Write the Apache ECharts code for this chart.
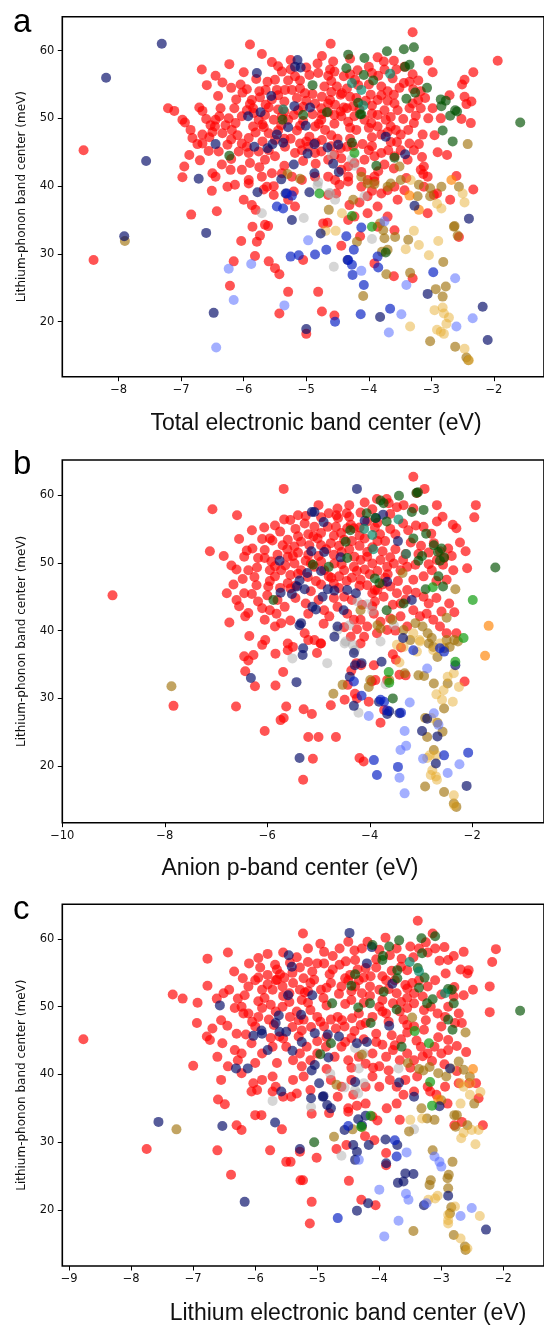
<!DOCTYPE html>
<html>
<head>
<meta charset="utf-8">
<script src="https://cdn.jsdelivr.net/npm/echarts/dist/echarts.min.js"></script>
<style>
  html, body { margin: 0; padding: 0; background: #fff; }
  #chart { width: 544px; height: 1331px; }
</style>
</head>
<body>
<div id="chart"></div>
<script>
// Tick labels
const yTicks = [20, 30, 40, 50, 60];
const aXTicks = [-8, -7, -6, -5, -4, -3, -2];
const bXTicks = [-10, -8, -6, -4, -2];
const cXTicks = [-9, -8, -7, -6, -5, -4, -3, -2];

const panelLetters = ['a', 'b', 'c'];
const xTitles = ['Total electronic band center (eV)', 'Anion p-band center (eV)', 'Lithium electronic band center (eV)'];
const yTitle = 'Lithium-phonon band center (meV)';

// ---- Panel a: total electronic band center vs Li-phonon band center ----
const aRed = [[-8.56,45.3],[-8.40,29.1],[-1.94,58.5],[-2.33,56.8],[-2.47,55.7],[-2.51,55.0],[-2.71,53.4],[-2.47,53.2],[-2.36,52.5],[-2.44,52.1],[-2.52,49.9],[-2.37,49.3],[-2.33,39.5],[-2.56,32.5],
[-5.90,60.9],[-4.61,61.0],[-3.30,62.7],[-5.71,59.5],[-6.23,58.0],[-6.67,57.2],[-4.82,58.1],[-4.57,58.4],[-4.18,57.1],[-4.00,57.6],[-3.86,59.0],[-3.76,58.4],[-3.75,57.2],[-3.43,57.6],[-3.44,55.2],[-3.05,58.5],[-2.98,56.8],[-3.21,55.6],[-3.56,57.2],[-3.62,55.9],[-6.34,55.3],[-6.59,54.9],[-5.62,55.4],[-5.50,55.7],[-5.39,56.9],[-5.29,55.6],[-5.18,56.2],[-5.10,55.6],[-4.81,56.7],[-4.62,57.2],[-4.55,56.9],[-4.40,56.2],[-4.22,55.7],[-4.17,54.9],[-4.71,54.7],[-4.51,54.7],[-4.43,53.7],[-3.80,54.7],[-3.70,54.0],[-3.51,54.5],[-3.29,54.3],[-3.17,54.0],[-6.02,53.8],[-6.12,52.8],[-5.87,52.7],[-5.74,53.1],[-5.65,54.2],[-5.90,52.1],[-5.47,54.2],[-5.34,54.2],[-5.23,54.2],[-5.10,54.4],[-5.02,53.7],[-4.62,52.7],[-4.45,53.5],[-4.54,52.0],[-3.97,53.5],[-3.86,52.7],[-3.59,52.2],[-3.75,51.2],[-3.86,50.5],[-3.54,51.2],[-3.35,51.5],[-3.21,52.7],[-3.17,51.5],[-2.98,51.5],
[-7.21,51.5],[-7.11,51.1],[-6.98,49.8],[-6.82,47.1],[-6.74,46.2],[-6.66,47.6],[-6.71,51.6],[-6.66,51.1],[-6.41,53.3],[-6.37,51.5],[-6.39,50.3],[-6.24,50.0],[-6.53,49.0],[-6.46,48.8],[-6.29,49.0],[-6.13,49.3],[-6.03,50.3],[-5.84,50.8],[-5.76,49.8],[-5.66,50.5],[-5.52,49.8],[-5.39,50.3],[-5.29,49.8],[-5.20,50.5],[-5.13,51.2],[-4.86,52.2],[-4.76,51.5],[-4.65,52.2],[-4.55,50.5],[-4.76,49.8],[-4.86,48.8],[-4.44,50.3],[-4.33,49.5],[-4.23,50.3],[-4.07,49.8],[-3.96,49.3],[-3.86,48.8],[-3.73,49.8],[-3.65,48.8],[-3.57,48.3],[-3.49,47.6],[-3.28,49.3],[-3.37,48.3],[-3.14,47.6],
[-6.94,49.4],[-6.87,44.6],[-6.95,42.9],[-6.66,46.3],[-6.40,45.1],[-6.26,46.1],[-6.56,45.2],[-6.50,48.0],[-6.34,47.8],[-6.19,48.3],[-6.10,47.5],[-5.92,47.1],[-5.81,47.9],[-5.68,48.7],[-5.50,46.8],[-6.03,46.3],[-6.08,45.1],[-5.92,44.9],[-5.76,45.1],[-5.66,43.9],[-5.50,44.4],[-5.34,45.8],[-5.18,44.9],[-5.07,45.3],[-4.97,45.8],[-4.86,44.9],[-4.76,45.1],[-4.65,43.9],[-4.55,44.6],[-4.44,44.1],[-4.33,42.9],[-4.23,43.4],[-4.07,43.9],[-3.91,44.4],[-3.80,44.9],[-3.69,45.3],[-3.59,44.4],[-3.49,45.3],[-3.38,43.9],[-3.28,45.3],[-3.12,42.9],[-3.06,41.4],
[-6.98,41.3],[-6.50,41.9],[-6.45,41.4],[-6.21,42.4],[-6.26,39.9],[-6.14,40.2],[-6.03,42.4],[-5.92,40.9],[-5.71,41.4],[-5.55,41.9],[-5.63,39.9],[-5.39,41.9],[-5.23,41.4],[-5.07,40.9],[-4.86,41.4],[-4.65,41.4],[-4.54,40.9],[-4.44,42.4],[-4.33,41.4],[-4.12,42.1],[-4.02,40.9],[-3.91,41.4],[-3.12,39.9],[-2.91,38.9],[-3.80,38.9],[-3.70,39.4],[-3.59,39.9],[-3.17,42.4],[-3.13,41.8],
[-5.55,52.8],[-5.35,52.5],[-5.00,52.6],[-4.75,53.2],[-4.35,51.5],[-4.95,47.3],[-5.25,47.0],[-5.45,48.2],[-4.60,47.5],[-4.30,47.0],[-4.10,46.2],[-3.95,47.2],[-4.45,45.6],[-5.60,45.3],[-4.20,53.0],[-4.60,55.5],[-5.45,57.7],[-5.00,57.5],[-3.35,46.3],[-3.60,42.6],[-3.85,42.2],[-5.90,43.4],[-6.20,44.0],
[-6.05,55.0],[-5.80,55.8],[-5.95,51.2],[-5.60,51.6],[-5.35,51.0],[-5.05,49.6],[-4.90,50.6],[-4.65,50.9],[-4.40,51.6],[-4.15,51.3],[-3.95,51.9],[-3.65,50.2],[-3.45,49.9],[-3.25,50.4],[-3.05,50.0],[-3.10,53.0],[-3.35,55.4],[-3.85,56.3],[-4.30,58.8],[-4.75,59.2],[-5.25,58.6],[-5.55,58.3],[-6.00,56.8],[-6.45,56.3],[-6.20,54.5],[-5.85,48.8],[-5.60,47.8],[-5.15,48.2],[-4.70,48.3],[-4.50,47.0],[-4.20,48.3],[-3.80,47.6],[-3.55,46.5],[-3.20,46.2],[-2.95,47.5],[-2.90,45.0],[-3.15,44.3],[-3.75,43.2],[-4.00,45.3],[-4.35,45.8],[-4.85,43.3],[-5.05,43.7],[-5.35,43.0],[-5.75,42.8],[-6.35,43.2],[-6.70,43.8],[-6.60,49.9],[-6.85,48.3],[-5.00,46.6],[-4.75,46.8],[-5.65,52.0],[-4.35,54.4],[-4.00,55.0],[-3.60,53.5],[-3.30,52.2],[-2.85,50.0],[-2.75,44.6],[-2.60,41.5],[-2.70,38.0],[-3.40,41.2],[-3.95,39.3],
[-5.95,54.3],[-5.75,54.0],[-5.45,53.4],[-5.15,53.0],[-4.90,53.6],[-4.60,53.9],[-4.30,53.2],[-4.05,52.6],[-3.80,53.4],[-5.85,51.5],[-5.45,51.3],[-5.05,51.7],[-4.75,50.6],[-4.45,51.0],[-4.25,51.8],[-3.95,50.7],[-3.70,52.6],[-5.70,49.1],[-5.40,49.0],[-5.10,48.9],[-4.80,49.2],[-4.55,49.2],[-4.30,48.6],[-4.00,48.6],[-3.70,48.0],[-5.95,45.8],[-5.70,46.6],[-5.35,47.0],[-5.10,46.3],[-4.85,46.4],[-4.60,45.9],[-4.25,45.9],[-3.95,45.9],[-3.65,46.5],[-5.25,57.2],[-4.95,56.4],[-4.65,56.3],[-4.30,56.5],[-3.95,56.7],[-3.60,58.5],[-3.30,56.5],[-6.15,51.5],[-6.45,49.8],[-6.55,47.2],[-6.20,46.9],
[-6.51,39.3],[-6.00,38.0],[-5.92,40.4],[-5.68,39.5],[-5.52,40.0],[-5.52,38.7],[-5.20,39.2],[-5.29,38.0],[-5.18,37.0],[-5.87,37.2],[-5.81,36.5],[-6.84,35.8],[-6.43,36.3],[-5.86,34.0],[-5.66,34.3],[-5.61,34.1],[-5.79,31.8],[-5.74,32.7],[-6.04,31.9],[-5.82,29.7],[-6.16,28.9],[-5.60,28.9],[-5.50,27.9],[-5.43,27.0],[-6.22,25.3],[-5.29,24.4],[-5.43,21.2],[-4.81,24.4],[-4.75,21.5],[-4.55,20.9],[-5.00,18.2],[-5.05,29.1],[-4.73,34.5],[-4.66,34.6],[-4.44,31.2],[-4.33,35.0],[-4.23,35.5],[-4.14,32.6],[-3.91,28.6],[-4.02,36.0],[-3.86,37.0],[-3.86,34.0],[-3.70,35.5],[-3.59,33.5],[-3.30,26.4],[-3.60,26.7],[-3.06,36.0],[-4.12,39.9],[-3.91,40.7],[-4.33,40.7],[-4.02,38.5],[-4.65,38.7],[-4.47,40.2],[-4.15,37.6],[-4.52,38.9],[-4.31,37.2],[-3.54,38.0],[-3.43,39.4],[-2.96,38.7]];
const aNavy = [[-8.20,56.0],[-7.56,43.7],[-7.31,61.0],[-7.91,32.6],[-2.40,35.2],[-2.18,22.2],[-2.10,17.3],[-5.14,58.6],[-5.18,57.6],[-5.09,57.5],[-5.79,56.7],[-5.56,53.3],[-5.93,50.3],[-5.73,50.9],[-5.29,48.7],[-5.19,51.8],[-4.94,51.6],[-5.01,48.9],[-3.73,47.3],[-6.45,46.2],[-5.47,47.6],[-5.54,46.2],[-5.62,45.6],[-5.37,46.4],[-5.83,45.8],[-4.87,46.2],[-4.66,45.7],[-4.49,46.1],[-4.98,44.8],[-5.20,43.2],[-4.57,43.3],[-4.48,42.1],[-3.42,44.7],[-6.72,41.1],[-5.78,39.1],[-5.40,41.0],[-4.87,41.9],[-4.95,39.1],[-5.33,38.9],[-6.60,33.1],[-6.48,21.3],[-5.00,18.9],[-4.77,33.0],[-4.34,29.1],[-3.82,20.7],[-3.06,24.1],[-3.27,37.1],[-5.23,35.0]];
const aBlue = [[-5.47,37.0],[-5.37,36.7],[-5.31,38.9],[-5.23,38.6],[-5.25,29.6],[-5.12,29.8],[-4.86,29.9],[-4.68,30.6],[-4.54,20.0],[-4.36,32.6],[-4.24,30.6],[-4.12,33.9],[-4.33,29.1],[-4.27,28.4],[-4.26,26.9],[-4.08,25.4],[-3.86,29.6],[-3.85,28.0],[-4.13,21.1],[-3.66,21.9],[-2.97,27.3]];
const aLightBlue = [[-6.24,27.8],[-5.88,28.5],[-6.16,23.2],[-6.44,16.2],[-5.35,22.4],[-4.97,32.0],[-4.12,27.5],[-3.68,18.4],[-3.48,21.1],[-3.40,25.4],[-2.60,19.3],[-2.34,20.5],[-2.62,26.4],[-3.75,34.8]];
const aDarkGreen = [[-1.58,49.4],[-2.62,51.2],[-2.70,50.4],[-2.82,48.2],[-2.66,46.6],[-2.85,52.8],[-2.77,52.6],[-2.84,51.8],[-4.33,59.4],[-4.07,58.9],[-3.71,59.9],[-3.44,60.2],[-3.28,60.5],[-4.36,57.4],[-4.08,56.4],[-3.93,55.6],[-3.35,57.9],[-3.42,57.6],[-4.90,54.9],[-3.07,54.5],[-3.26,53.8],[-4.17,52.3],[-4.14,50.6],[-3.40,52.9],[-5.38,49.8],[-5.05,50.5],[-4.67,50.9],[-4.12,50.6],[-4.27,46.4],[-3.88,43.0],[-3.59,44.2],[-3.73,30.2],[-6.23,44.5],[-2.59,51.0]];
const aGreen = [[-4.23,44.9],[-4.79,38.9],[-4.27,35.6],[-3.95,34.0]];
const aTeal = [[-3.66,56.6],[-4.27,55.2],[-5.37,51.3],[-4.12,54.2],[-4.09,51.9]];
const aDarkGold = [[-7.90,31.9],[-2.42,46.2],[-2.58,32.7],[-2.63,34.1],[-2.62,16.3],[-2.41,14.3],[-5.30,41.8],[-5.10,41.1],[-4.12,41.4],[-4.02,40.4],[-3.91,40.3],[-3.70,39.9],[-3.65,40.4],[-3.49,40.9],[-3.51,42.9],[-3.20,40.2],[-3.02,39.7],[-2.84,39.9],[-4.64,36.5],[-4.25,38.0],[-4.19,31.8],[-3.82,34.5],[-3.77,33.5],[-3.75,32.3],[-3.79,30.3],[-3.70,30.6],[-3.58,32.5],[-3.72,27.0],[-4.09,23.8],[-3.37,32.1],[-3.34,27.2],[-3.22,38.5],[-3.02,38.5],[-2.56,39.9],[-2.64,34.0],[-2.81,28.8],[-2.93,24.8],[-2.77,25.2],[-2.82,23.7],[-3.02,17.1],[-2.44,14.7]];
const aLightGold = [[-2.50,38.9],[-2.47,16.0],[-4.43,36.0],[-4.53,33.4],[-4.69,33.4],[-3.33,40.9],[-3.28,33.4],[-3.41,30.7],[-3.20,31.3],[-2.89,31.9],[-2.84,36.7],[-2.91,37.4],[-2.47,37.6],[-3.04,29.8],[-3.34,19.3],[-2.95,21.7],[-2.82,22.1],[-2.80,21.2],[-2.72,20.6],[-2.76,19.7],[-2.80,18.2],[-2.85,18.5],[-2.91,18.8],[-2.40,14.3]];
const aOrange = [[-2.68,40.9],[-3.20,36.5],[-3.35,38.6]];
const aGray = [[-4.59,44.5],[-4.27,44.0],[-4.23,43.0],[-4.81,40.6],[-4.82,40.1],[-4.62,38.9],[-5.71,36.0],[-5.04,35.3],[-4.56,28.1],[-4.63,39.0],[-4.54,38.0],[-4.07,38.5],[-3.95,32.2]];

// ---- Panel b: anion p-band center ----
const bRed = [[-9.02,45.2],[-7.83,28.9],[-1.93,58.5],[-1.96,56.7],[-2.10,49.2],[-2.15,32.5],
[-5.68,60.9],[-3.15,62.7],[-2.93,60.9],[-3.08,60.3],[-7.07,57.9],[-6.59,57.0],[-5.67,56.4],[-4.63,58.0],[-4.40,58.5],[-4.10,58.9],[-3.86,59.4],[-3.67,59.4],[-3.63,58.8],[-3.47,58.2],[-3.34,58.5],[-3.15,58.0],[-2.69,58.5],[-4.18,57.4],[-4.40,56.8],[-4.62,56.6],[-4.37,55.6],[-4.05,56.1],[-2.13,51.7],[-2.24,53.0],[-2.38,55.6],[-2.31,55.1],[-2.58,56.8],[-2.69,56.1],[-2.75,52.9],[-2.63,51.7],[-2.47,52.1],[-2.55,50.7],[-2.69,50.4],
[-7.12,51.7],[-6.85,51.0],[-6.74,41.2],[-6.79,45.5],[-6.60,44.5],[-6.66,46.8],[-6.48,47.6],[-6.35,39.2],[-6.30,54.8],[-6.06,55.2],[-6.29,52.1],[-6.05,51.9],[-6.18,50.7],[-6.37,48.9],[-6.21,46.7],[-6.43,42.1],[-6.37,42.6],[-6.18,44.3],[-5.98,46.5],[-5.95,43.0],[-5.82,42.5],[-5.85,40.6],[-5.66,43.5],[-5.73,41.1],[-5.60,53.4],[-5.47,52.4],[-5.34,53.1],[-5.18,52.6],[-5.02,53.6],[-4.76,52.9],[-4.50,53.4],[-5.61,52.0],[-4.56,54.4],[-5.27,55.8],[-5.08,55.3],[-4.82,55.3],[-4.66,55.3],[-4.44,55.1],[-4.31,55.1],
[-6.05,50.7],[-5.92,50.2],[-5.73,48.9],[-5.60,50.9],[-5.47,49.9],[-5.34,48.9],[-5.21,47.9],[-5.08,49.4],[-4.89,48.9],[-4.69,49.9],[-4.50,48.9],[-4.31,49.4],[-4.18,50.4],[-4.05,50.9],[-3.79,50.4],[-3.66,49.4],[-3.53,49.9],[-3.40,48.9],[-3.27,49.4],[-3.11,49.7],[-4.18,47.5],[-4.05,46.7],[-3.85,46.0],[-3.73,45.0],[-3.60,46.5],[-3.47,45.5],[-3.27,46.0],[-3.15,47.5],[-2.95,48.0],[-2.79,48.9],[-2.57,49.7],[-2.37,48.9],
[-3.15,43.0],[-3.02,42.1],[-2.89,42.5],[-2.76,41.6],[-2.63,40.6],[-2.50,39.6],[-2.60,42.8],[-2.31,39.6],[-4.89,43.0],[-4.79,42.1],[-4.63,43.5],[-4.44,42.5],[-4.31,41.6],[-4.18,41.6],[-4.05,40.6],[-3.92,42.5],[-3.79,41.3],[-3.60,41.8],[-3.40,42.1],[-3.27,40.6],[-3.66,40.1],[-3.86,39.6],[-4.11,39.1],[-4.37,39.1],[-4.18,38.1],[-5.27,39.6],[-5.08,38.6],[-4.95,38.1],[-5.60,38.1],
[-5.40,51.5],[-5.00,51.0],[-4.70,51.2],[-4.40,52.0],[-4.20,52.5],[-3.95,52.3],[-3.70,53.2],[-3.50,52.0],[-3.30,51.3],[-3.20,53.0],[-3.00,52.5],[-3.60,55.0],[-3.35,55.8],[-3.90,55.2],[-3.10,55.5],[-2.85,51.5],[-4.95,46.8],[-4.60,46.3],[-4.35,44.5],[-4.75,47.8],[-5.45,44.8],[-5.15,45.8],[-3.90,44.3],[-3.55,43.8],[-3.30,44.6],[-2.95,45.0],[-2.70,44.8],[-2.45,44.0],[-2.35,42.7],[-5.85,48.0],[-6.00,45.2],[-5.60,47.0],[-4.00,48.3],[-3.70,47.8],[-3.45,47.3],
[-6.55,53.5],[-6.70,49.6],[-6.45,50.9],[-6.20,49.3],[-5.90,53.3],[-5.75,54.6],[-5.45,55.0],[-5.20,54.2],[-4.95,54.4],[-4.70,54.0],[-4.20,54.0],[-3.80,54.2],[-3.50,54.2],[-3.25,54.8],[-2.95,55.3],[-2.80,54.3],[-3.60,57.2],[-3.95,57.9],[-4.80,57.3],[-5.40,57.0],[-5.85,49.5],[-5.55,48.2],[-5.25,50.3],[-4.95,50.2],[-4.60,48.0],[-4.35,47.8],[-4.10,49.0],[-3.85,48.8],[-3.60,50.8],[-3.35,50.4],[-3.05,51.3],[-2.85,49.8],[-2.70,47.3],[-2.50,47.5],[-2.40,51.0],[-5.80,44.5],[-5.55,46.2],[-5.25,44.0],[-5.00,44.5],[-4.70,44.8],[-4.50,45.0],[-4.15,43.8],[-3.95,45.5],[-3.75,46.8],[-3.40,44.0],[-3.10,45.6],[-2.85,44.0],[-6.30,45.4],[-6.55,43.6],[-6.05,41.6],[-5.55,41.5],[-5.20,42.5],[-4.90,41.0],[-4.50,40.5],[-3.50,40.0],[-3.95,43.6],[-4.25,40.2],[-6.10,53.5],[-4.45,57.3],[-5.00,58.5],
[-5.95,53.6],[-5.70,52.6],[-5.40,53.9],[-5.10,53.9],[-4.85,52.0],[-4.60,52.5],[-4.35,53.2],[-4.10,53.6],[-3.85,53.2],[-5.80,51.2],[-5.50,51.0],[-5.20,51.2],[-4.95,52.6],[-4.55,51.6],[-4.30,50.9],[-4.05,51.6],[-3.75,51.7],[-5.95,48.9],[-5.65,49.6],[-5.40,48.4],[-5.15,49.9],[-4.80,48.0],[-4.55,49.8],[-4.25,48.8],[-3.95,49.9],[-3.65,48.3],[-5.95,47.3],[-5.75,46.3],[-5.45,46.6],[-5.05,47.3],[-4.70,46.9],[-4.45,47.3],[-4.20,46.6],[-3.90,46.0],[-5.85,55.5],[-5.55,56.3],[-5.25,56.9],[-4.95,56.7],[-4.65,57.0],[-4.20,55.2],[-3.85,55.9],[-6.40,51.8],[-6.60,49.0],[-6.25,47.9],[-6.45,45.5],[-6.10,43.3],
[-6.45,36.2],[-6.37,35.6],[-6.43,34.0],[-6.04,38.6],[-6.10,37.9],[-6.27,36.4],[-5.84,36.6],[-5.69,33.9],[-5.60,37.1],[-5.50,37.6],[-5.03,36.7],[-4.96,38.1],[-5.20,38.6],[-6.24,31.8],[-5.84,31.9],[-6.05,25.2],[-6.61,28.8],[-5.63,28.8],[-5.74,26.8],[-5.68,27.1],[-5.29,28.4],[-5.13,27.7],[-5.20,24.3],[-5.00,24.3],[-5.11,21.1],[-5.30,18.0],[-4.76,29.0],[-4.49,29.8],[-4.26,35.2],[-4.20,21.2],[-4.12,20.7],[-3.92,34.9],[-3.55,36.5],[-3.39,37.5],[-3.30,33.4],[-3.79,26.4],[-3.72,28.3],[-4.17,34.9],[-4.02,29.5],[-3.96,32.5],[-3.66,32.7],[-3.42,33.5],[-3.49,35.7],[-4.36,34.1],[-4.43,32.0],[-4.29,30.7],[-4.25,30.0],[-4.66,24.3],[-3.89,32.7]];
const bNavy = [[-2.11,17.1],[-4.25,60.9],[-5.13,57.5],[-5.08,57.5],[-4.90,56.0],[-4.10,56.2],[-3.88,56.6],[-3.74,57.1],[-5.76,50.3],[-5.14,51.7],[-4.89,51.6],[-4.95,48.8],[-5.22,48.5],[-4.57,50.8],[-5.37,47.4],[-5.27,46.1],[-5.42,46.5],[-5.52,45.4],[-5.74,45.6],[-5.34,41.1],[-5.37,40.8],[-4.69,45.9],[-4.92,45.0],[-4.82,46.1],[-4.44,46.0],[-4.27,45.5],[-3.66,47.2],[-3.18,44.5],[-3.45,53.2],[-5.12,43.5],[-5.05,43.1],[-4.63,40.6],[-4.69,39.1],[-4.51,43.0],[-3.35,38.9],
[-5.30,37.4],[-5.31,36.4],[-6.32,33.0],[-5.43,32.4],[-5.37,21.2],[-4.39,33.2],[-4.31,36.7],[-4.29,34.9],[-4.16,35.2],[-3.77,35.4],[-4.31,28.9],[-3.82,29.5],[-3.66,27.7],[-3.62,28.1],[-3.42,27.8],[-2.98,25.2],[-2.68,24.4],[-2.71,20.4],[-2.33,34.9],[-2.88,27.0]];
const bBlue = [[-2.08,22.0],[-3.15,37.1],[-2.63,37.4],[-4.31,32.5],[-4.16,30.4],[-3.92,20.9],[-3.86,18.7],[-3.45,19.9],[-2.55,36.9],[-3.79,29.8],[-3.72,29.5],[-3.66,28.2],[-3.39,27.9],[-2.55,21.6]];
const bLightBlue = [[-4.02,27.4],[-3.32,25.2],[-3.29,23.0],[-3.40,22.4],[-3.42,18.3],[-3.32,16.0],[-3.22,29.4],[-2.88,34.4],[-2.96,21.1],[-2.75,27.8],[-2.66,26.1],[-2.48,19.0],[-2.25,20.3]];
const bDarkGreen = [[-1.55,49.3],[-3.43,59.9],[-3.09,60.3],[-3.06,60.4],[-3.79,59.2],[-3.73,58.8],[-4.06,57.3],[-3.89,56.6],[-3.67,56.1],[-3.18,57.5],[-2.95,57.8],[-2.90,54.3],[-3.15,53.6],[-2.75,52.6],[-2.67,51.6],[-2.60,52.1],[-2.55,50.8],[-2.63,50.3],[-3.05,50.3],[-2.98,51.0],[-2.66,48.0],[-2.57,46.5],[-2.91,46.1],[-5.11,49.7],[-4.80,49.4],[-5.88,44.5],[-4.44,50.7],[-4.38,54.8],[-4.47,53.1],[-3.90,47.7],[-3.81,47.0],[-3.34,44.0],[-3.67,43.0],[-3.55,30.0]];
const bGreen = [[-1.99,44.5],[-2.77,46.4],[-2.17,38.9],[-3.63,33.9],[-2.33,35.4],[-3.62,32.3]];
const bTeal = [[-4.11,55.0],[-3.95,54.1],[-3.44,56.4],[-3.29,51.3],[-3.93,52.0]];
const bDarkGold = [[-7.87,31.8],[-2.33,46.1],[-2.50,41.9],[-3.36,48.5],[-4.18,43.0],[-3.85,40.8],[-3.79,40.3],[-3.56,41.6],[-3.34,40.1],[-3.11,41.1],[-2.97,40.6],[-2.87,39.6],[-2.79,38.9],[-2.50,38.6],[-2.44,37.6],[-2.76,37.6],[-3.21,38.6],
[-4.71,30.7],[-4.53,32.0],[-3.99,32.7],[-4.02,31.7],[-3.62,32.7],[-3.32,33.7],[-3.05,33.4],[-2.85,38.1],[-2.68,36.1],[-2.94,33.3],[-2.75,32.2],[-2.55,37.4],[-2.48,32.2],[-2.35,38.6],[-2.28,38.4],[-2.92,27.1],[-2.88,24.3],[-2.68,26.4],[-2.58,25.1],[-2.55,28.5],[-2.75,22.4],[-2.92,17.0],[-2.55,16.2],[-2.36,14.5],[-2.31,14.0]];
const bLightGold = [[-3.15,39.6],[-3.02,38.4],[-3.47,37.9],[-3.34,37.6],[-2.63,38.1],[-3.42,35.3],[-3.08,36.9],[-2.80,27.1],[-2.48,33.2],[-2.36,33.7],[-2.70,30.6],[-2.56,31.2],[-2.59,29.8],[-2.38,29.5],[-2.26,31.7],[-2.83,21.6],[-2.88,21.2],[-2.70,21.6],[-2.78,19.4],[-2.81,18.7],[-2.71,18.5],[-2.69,18.0],[-2.36,15.7],[-2.35,14.2],[-3.03,38.6],[-2.76,37.1]];
const bOrange = [[-1.68,40.7],[-1.75,36.3]];
const bGray = [[-4.24,44.3],[-4.05,43.9],[-3.95,42.9],[-3.53,40.8],[-4.40,40.8],[-4.47,38.4],[-4.63,40.1],[-5.51,35.9],[-4.83,35.2],[-4.49,38.1],[-4.33,37.9],[-4.22,27.9],[-3.79,38.4],[-3.69,32.1],[-4.29,37.1]];

// ---- Panel c: lithium electronic band center ----
const cRed = [[-5.23,60.8],[-3.38,62.7],[-8.77,45.2],[-2.12,58.5],[-2.18,56.6],[-2.22,53.0],[-2.22,49.2],[-7.33,51.8],[-7.17,51.2],[-6.93,50.6],[-6.94,47.6],[-7.00,41.3],[-6.77,57.1],[-6.77,53.1],[-6.44,58.0],[-6.34,55.2],[-6.78,45.6],[-6.73,45.1],[-6.69,46.8],[-6.55,48.0],[-6.61,42.6],[-6.55,39.2],[-6.53,44.6],[-6.62,51.2],[-6.51,52.0],[-6.42,52.5],[-6.33,49.8],[-6.28,51.2],[-6.22,50.0],[-6.19,49.0],[-6.17,51.7],[-4.14,54.5],[-5.20,52.1],[-2.55,38.7],
[-5.92,55.8],[-5.80,54.7],[-5.68,56.2],[-5.60,54.8],[-5.53,54.3],[-5.44,56.5],[-5.33,57.3],[-5.28,55.8],[-5.22,54.2],[-5.08,55.2],[-5.00,56.4],[-4.89,56.4],[-4.75,55.5],[-4.64,56.2],[-4.54,56.7],[-4.47,54.7],[-4.33,53.9],[-4.22,55.7],[-4.05,55.8],[-3.89,53.9],[-3.75,53.9],[-3.55,55.4],[-3.58,53.2],[-3.47,53.5],[-3.36,53.9],[-3.22,53.0],[-3.10,53.9],[-2.93,54.9],[-2.79,52.9],[-2.64,51.7],[-2.49,52.5],
[-4.89,58.1],[-4.64,58.6],[-4.39,56.9],[-4.28,58.6],[-4.19,59.6],[-4.00,58.4],[-3.83,57.6],[-3.72,58.6],[-3.64,57.1],[-3.50,58.9],[-3.36,58.6],[-3.22,58.0],[-3.14,60.8],[-3.10,58.6],[-2.89,56.9],[-3.03,56.8],[-2.69,55.5],[-2.58,54.9],[-2.56,55.4],[-2.64,58.1],
[-6.11,49.0],[-6.00,47.1],[-5.89,49.8],[-5.78,48.1],[-5.67,49.3],[-5.56,50.0],[-5.44,48.5],[-5.33,49.3],[-5.22,48.1],[-5.11,49.5],[-5.00,48.5],[-4.89,47.1],[-4.78,48.1],[-4.67,48.5],[-4.56,47.1],[-4.44,48.3],[-4.33,49.0],[-4.22,47.6],[-4.11,48.5],[-4.00,50.0],[-3.89,49.0],[-3.78,50.5],[-3.67,49.3],[-3.55,49.8],[-3.44,50.5],[-3.28,49.5],[-3.17,50.0],[-3.06,49.0],[-2.94,48.5],[-2.89,50.0],[-3.00,47.1],[-3.28,46.6],[-3.44,47.1],[-3.61,48.1],[-2.89,45.1],[-2.78,47.6],[-2.67,47.6],[-2.72,49.0],
[-6.06,44.6],[-5.89,43.1],[-5.72,44.1],[-5.61,45.6],[-5.50,44.1],[-5.39,42.1],[-5.28,43.1],[-5.17,44.1],[-5.11,42.1],[-5.00,43.1],[-4.86,44.1],[-4.72,42.6],[-4.61,44.1],[-4.50,42.1],[-4.33,42.6],[-4.22,41.6],[-4.11,43.1],[-4.00,41.2],[-3.89,42.6],[-3.78,43.6],[-3.67,42.1],[-3.55,43.1],[-3.44,42.1],[-3.33,44.1],[-3.22,43.1],[-3.11,44.1],[-3.00,43.1],[-2.89,43.6],
[-6.44,41.2],[-6.22,40.2],[-6.03,38.7],[-5.89,39.2],[-5.72,39.7],[-5.67,38.2],[-5.39,39.2],[-5.22,39.7],[-5.11,37.7],[-4.78,39.2],[-4.61,38.2],[-4.45,39.2],[-4.22,38.2],[-4.11,39.7],[-4.00,38.2],[-3.83,39.2],[-3.72,38.2],[-3.58,39.2],[-3.39,39.7],[-3.22,38.2],[-2.94,38.2],[-2.72,38.7],[-2.44,38.7],
[-6.11,53.0],[-6.00,53.9],[-5.89,52.5],[-5.72,52.5],[-5.67,53.9],[-5.56,53.0],[-5.39,53.5],[-5.28,52.5],[-5.11,53.5],[-4.94,52.5],[-4.78,53.5],[-4.61,53.0],[-4.50,53.9],[-4.39,53.0],[-4.28,52.0],[-4.00,52.5],[-3.72,52.0],[-3.44,52.0],[-6.33,43.6],[-6.22,43.1],[-6.28,42.1],
[-5.95,57.2],[-5.55,58.0],[-5.15,58.6],[-4.75,57.5],[-4.40,58.3],[-4.05,57.0],[-3.45,57.3],[-2.95,58.8],[-2.80,57.5],[-6.20,54.2],[-5.85,51.3],[-5.55,51.6],[-5.25,51.0],[-4.90,51.3],[-4.65,51.9],[-4.45,51.0],[-4.15,51.6],[-3.95,51.0],[-3.55,51.3],[-3.30,51.5],[-3.00,51.8],[-2.80,51.5],[-6.45,47.2],[-6.30,46.0],[-5.95,48.5],[-5.40,47.0],[-5.10,47.0],[-4.70,46.8],[-4.40,46.4],[-4.05,46.0],[-3.80,45.8],[-3.55,46.2],[-3.25,48.0],[-3.05,45.5],[-2.75,44.2],[-2.60,43.3],[-6.15,45.9],[-5.75,45.4],[-5.30,45.6],[-5.00,44.9],[-4.55,44.8],[-4.25,45.2],[-3.95,44.4],[-3.65,45.2],[-3.40,45.0],[-3.15,42.0],[-2.95,41.5],[-2.75,40.5],[-6.00,41.7],[-5.65,41.7],[-5.25,41.2],[-4.85,40.8],[-4.45,41.0],[-4.10,41.0],[-3.85,40.6],[-3.50,41.0],[-3.30,42.7],[-5.65,55.5],[-5.15,56.6],[-4.35,55.5],[-3.95,54.5],[-3.65,55.9],
[-5.95,54.3],[-5.65,54.0],[-5.40,55.0],[-5.05,54.0],[-4.80,54.8],[-4.55,54.2],[-4.25,54.3],[-3.80,55.3],[-5.80,53.3],[-5.45,52.0],[-5.15,52.3],[-4.85,52.8],[-4.45,52.3],[-4.15,53.0],[-3.85,52.6],[-3.55,52.7],[-5.75,50.3],[-5.45,50.7],[-5.15,50.6],[-4.85,50.2],[-4.55,50.4],[-4.25,50.6],[-3.95,49.3],[-3.65,50.7],[-5.95,50.8],[-6.05,47.8],[-5.70,47.3],[-5.30,48.0],[-4.95,47.8],[-4.60,48.0],[-4.30,47.3],[-3.85,47.8],[-3.55,47.3],[-5.55,45.3],[-5.25,46.5],[-4.85,45.5],[-4.45,45.4],[-4.05,44.8],[-3.75,44.3],[-6.10,56.4],[-5.80,57.8],[-4.95,59.3],[-4.50,59.6],[-3.90,60.2],[-3.25,59.5],
[-7.75,29.0],[-6.60,36.3],[-6.49,35.6],[-6.61,28.8],[-6.30,32.5],[-6.22,31.8],[-6.00,34.0],[-5.90,34.0],[-5.76,28.8],[-5.57,31.9],[-6.39,25.2],[-6.06,37.5],[-5.97,37.7],[-5.72,37.5],[-5.55,36.7],[-5.42,36.7],[-5.33,37.2],[-5.50,27.1],[-5.43,27.1],[-5.27,24.4],[-5.23,24.4],[-5.28,28.6],[-5.09,34.2],[-5.01,27.7],[-5.12,18.0],[-5.09,21.2],[-4.81,34.3],[-4.67,36.7],[-4.50,35.0],[-4.50,34.5],[-4.42,37.0],[-4.36,35.4],[-4.22,35.7],[-4.11,33.8],[-4.03,33.2],[-4.08,30.3],[-4.23,30.9],[-4.69,29.0],[-4.53,29.6],[-4.49,24.3],[-4.29,21.5],[-4.06,20.7],[-3.89,26.6],[-3.89,28.4],[-3.88,35.0],[-3.67,33.3],[-3.72,35.7],[-3.61,37.0],[-3.44,37.5],[-3.18,37.5],[-3.08,37.0],[-2.90,35.7],[-2.79,32.5],[-2.67,33.0],[-2.33,32.5],[-2.40,36.5]];
const cNavy = [[-4.48,60.9],[-6.57,50.2],[-6.31,40.9],[-6.12,40.9],[-2.86,40.9],[-4.39,38.9],[-6.03,45.7],[-5.90,46.5],[-5.89,46.0],[-5.80,43.6],[-5.67,47.6],[-5.61,46.3],[-5.62,48.7],[-5.50,46.3],[-5.46,57.6],[-5.41,55.9],[-5.47,51.7],[-5.40,43.5],[-5.26,48.8],[-5.25,44.8],[-5.04,46.1],[-5.08,51.7],[-5.04,41.4],[-5.09,40.6],[-4.97,38.7],[-4.90,36.8],[-4.83,45.9],[-4.82,42.5],[-4.65,45.6],[-4.36,44.6],[-4.20,56.4],[-4.20,44.8],[-4.12,58.8],[-3.84,47.2],[-3.79,53.4],[-3.68,38.8],
[-7.56,33.0],[-6.53,32.4],[-6.17,21.2],[-5.68,32.9],[-5.58,37.5],[-5.10,36.5],[-4.91,36.7],[-4.84,35.5],[-4.78,35.0],[-5.28,29.0],[-4.56,31.8],[-4.42,29.6],[-4.36,28.6],[-4.39,27.4],[-4.17,29.6],[-4.28,32.5],[-4.34,33.4],[-3.90,30.4],[-3.89,26.9],[-3.71,29.6],[-3.58,25.4],[-3.61,24.2],[-3.45,25.3],[-4.36,19.9],[-4.18,21.0],[-3.70,24.0],[-3.44,36.7],[-3.03,35.3],[-2.89,22.1],[-2.28,17.1],[-3.28,20.7],[-4.22,33.9]];
const cBlue = [[-4.67,18.8],[-4.50,32.4],[-3.72,27.9],[-3.75,30.3]];
const cLightBlue = [[-4.33,27.4],[-4.00,23.0],[-3.92,16.1],[-3.69,18.4],[-3.57,22.4],[-3.56,28.5],[-3.24,21.0],[-3.11,27.9],[-3.03,27.1],[-3.00,26.4],[-2.69,19.1],[-2.51,20.3],[-3.53,21.5]];
const cDarkGreen = [[-1.73,49.4],[-4.95,43.0],[-4.78,44.6],[-4.76,50.5],[-4.39,54.8],[-4.45,53.1],[-4.34,49.9],[-4.15,50.5],[-4.14,47.6],[-4.11,59.1],[-3.94,57.5],[-3.95,56.9],[-3.93,52.2],[-3.84,58.9],[-3.71,54.2],[-3.71,55.4],[-3.72,49.6],[-3.68,59.8],[-3.64,44.1],[-3.32,60.1],[-3.31,57.9],[-3.36,52.8],[-3.38,55.7],[-3.27,54.3],[-3.23,50.5],[-3.14,51.1],[-3.10,60.4],[-2.89,48.1],[-2.80,50.5],[-2.82,46.6],[-2.83,52.5],[-2.89,52.6],[-5.05,30.0]];
const cGreen = [[-3.43,46.4],[-3.20,44.6],[-3.18,38.9],[-4.29,32.3],[-4.14,33.9],[-3.15,35.4]];
const cTeal = [[-3.51,56.6],[-3.36,55.2],[-2.94,52.0]];
const cDarkGold = [[-7.27,31.9],[-3.47,48.4],[-3.54,41.7],[-3.36,40.8],[-3.29,40.6],[-3.19,41.1],[-3.05,40.2],[-2.92,39.7],[-2.72,41.9],[-2.64,40.7],[-2.54,39.7],[-2.61,46.2],[-4.69,38.5],[-4.28,42.9],[-4.73,30.8],[-4.43,31.9],[-4.28,32.2],[-3.52,31.6],[-3.32,35.0],[-3.23,33.5],[-3.11,33.3],[-3.17,24.4],[-3.19,23.7],[-3.14,28.8],[-2.90,24.7],[-2.89,23.2],[-2.88,25.2],[-2.84,20.4],[-2.86,19.5],[-2.80,16.3],[-2.79,34.0],[-2.75,34.0],[-2.77,32.3],[-2.58,32.5],[-2.47,35.7],[-3.45,16.9],[-2.62,14.6],[-2.61,14.1],[-2.82,27.1],[-3.00,36.2]];
const cLightGold = [[-2.84,40.9],[-2.69,38.7],[-2.64,38.2],[-2.53,38.7],[-2.37,37.4],[-3.50,33.3],[-3.31,33.5],[-3.10,21.7],[-3.21,21.5],[-3.06,22.1],[-2.89,19.3],[-2.89,18.5],[-2.89,18.0],[-2.78,20.5],[-2.68,30.6],[-2.64,31.4],[-2.69,35.7],[-2.54,37.0],[-2.51,31.8],[-2.40,31.8],[-2.45,29.7],[-2.38,19.1],[-2.69,15.8],[-2.58,14.3]];
const cOrange = [[-2.49,40.8],[-3.05,36.3]];
const cGray = [[-4.39,43.9],[-4.33,40.9],[-4.39,37.7],[-4.25,43.1],[-4.79,40.1],[-4.56,38.1],[-4.25,38.7],[-5.72,36.1],[-3.69,40.9],[-5.10,35.2],[-4.61,28.0],[-4.34,37.2],[-3.44,31.9]];

// Marker colours for each material class
const palette = {
  red: 'rgba(255,0,0,0.84)',
  navy: 'rgba(4,12,105,0.84)',
  blue: 'rgba(4,30,195,0.84)',
  lightBlue: 'rgba(85,108,255,0.68)',
  darkGreen: 'rgba(5,84,5,0.84)',
  green: 'rgba(10,155,10,0.85)',
  teal: 'rgba(4,136,104,0.85)',
  darkGold: 'rgba(160,112,10,0.8)',
  lightGold: 'rgba(230,172,43,0.6)',
  orange: 'rgba(255,130,0,0.82)',
  gray: 'rgba(170,170,170,0.6)'
};

const panels = [
  { sets: { red: aRed, gray: aGray, darkGold: aDarkGold, lightGold: aLightGold, orange: aOrange, navy: aNavy, blue: aBlue, lightBlue: aLightBlue, darkGreen: aDarkGreen, green: aGreen, teal: aTeal },
    grid: { left: 62.3, top: 16.7, width: 485, height: 360 }, x: [-8.9, -1.2], y: [11.88, 65.0], xTicks: aXTicks,
    letterY: 33, titleX: 316, titleY: 435 },
  { sets: { red: bRed, gray: bGray, darkGold: bDarkGold, lightGold: bLightGold, orange: bOrange, navy: bNavy, blue: bBlue, lightBlue: bLightBlue, darkGreen: bDarkGreen, green: bGreen, teal: bTeal },
    grid: { left: 62.3, top: 460, width: 486, height: 362.7 }, x: [-10, -0.6], y: [11.67, 65.16], xTicks: bXTicks,
    letterY: 475, titleX: 290, titleY: 880 },
  { sets: { red: cRed, gray: cGray, darkGold: cDarkGold, lightGold: cLightGold, orange: cOrange, navy: cNavy, blue: cBlue, lightBlue: cLightBlue, darkGreen: cDarkGreen, green: cGreen, teal: cTeal },
    grid: { left: 62.3, top: 904.3, width: 485, height: 361.7 }, x: [-9.11, -1.345], y: [11.73, 65.12], xTicks: cXTicks,
    letterY: 920, titleX: 348, titleY: 1325 }
];

const minus = v => String(v).replace('-', '\u2212');
const tickFont = { fontFamily: 'DejaVu Sans', fontSize: 11.5, color: '#111' };

const option = { animation: false, grid: [], xAxis: [], yAxis: [], series: [], graphic: [] };

panels.forEach((p, i) => {
  option.grid.push(Object.assign({ show: true, borderColor: '#000', borderWidth: 1.6, backgroundColor: 'transparent' }, p.grid));
  option.xAxis.push({
    type: 'value', gridIndex: i, min: p.x[0], max: p.x[1],
    splitLine: { show: false }, axisLine: { show: false },
    axisTick: { show: true, customValues: p.xTicks, length: 4.5, lineStyle: { color: '#000', width: 1 } },
    axisLabel: Object.assign({ customValues: p.xTicks, margin: 7, formatter: minus }, tickFont)
  });
  option.yAxis.push({
    type: 'value', gridIndex: i, min: p.y[0], max: p.y[1],
    splitLine: { show: false }, axisLine: { show: false },
    axisTick: { show: true, customValues: yTicks, length: 4.5, lineStyle: { color: '#000', width: 1 } },
    axisLabel: Object.assign({ customValues: yTicks, margin: 8 }, tickFont)
  });
  Object.keys(p.sets).forEach(key => {
    option.series.push({
      type: 'scatter', xAxisIndex: i, yAxisIndex: i, data: p.sets[key],
      symbol: 'circle', symbolSize: 10, silent: true,
      itemStyle: { color: palette[key], borderWidth: 0 }
    });
  });
  const cy = p.grid.top + p.grid.height / 2;
  option.graphic.push(
    { type: 'text', left: 13, top: p.letterY - 27, style: { text: panelLetters[i], font: '33px "Liberation Sans", Arial, sans-serif', fill: '#000' } },
    { type: 'text', x: p.titleX, y: p.titleY, style: { text: xTitles[i], font: '23px "Liberation Sans", Arial, sans-serif', fill: '#111', textAlign: 'center', textVerticalAlign: 'bottom' } },
    { type: 'text', x: 22, y: cy, rotation: Math.PI / 2, style: { text: yTitle, font: '12px "DejaVu Sans", sans-serif', fill: '#111', textAlign: 'center', textVerticalAlign: 'middle' } }
  );
});

const chart = echarts.init(document.getElementById('chart'), null, { renderer: 'canvas' });
chart.setOption(option);
</script>
</body>
</html>
